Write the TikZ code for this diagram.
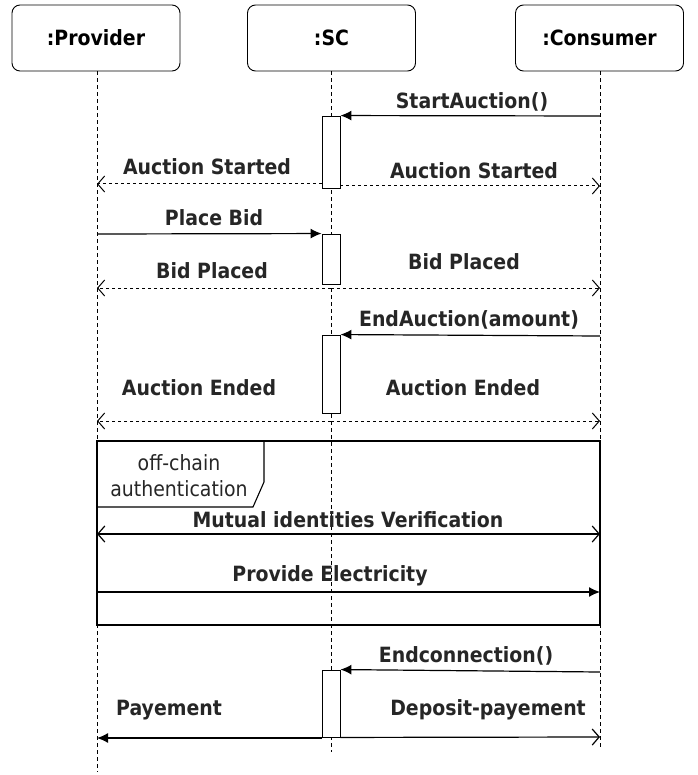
\documentclass[tikz,border=0pt]{standalone}
\usepackage{fontspec}
\setmainfont{DejaVu Sans}[FakeStretch=0.9]
\usetikzlibrary{arrows.meta}
\begin{document}
\begin{tikzpicture}[x=1pt,y=-1pt,
  actor/.style={draw, rounded corners=8pt, minimum width=168pt, minimum height=66pt, font=\fontsize{21}{24}\selectfont\bfseries, line width=0.9pt},
  life/.style={dash pattern=on 4pt off 3pt, line width=0.8pt},
  bar/.style={draw, fill=white, minimum width=18pt, inner sep=0pt, line width=0.9pt},
  lbl/.style={font=\fontsize{21}{24}\selectfont\bfseries, inner sep=0pt, text=black!85},
  msg/.style={line width=1.2pt, -{Latex[length=11pt,width=10pt]}},
  reply/.style={line width=1pt, dash pattern=on 3pt off 3pt, -{Straight Barb[length=7pt,width=16pt]}},
  openmsg/.style={line width=1.2pt, -{Straight Barb[length=7pt,width=16pt]}},
  frame/.style={line width=1.1pt}
]
\useasboundingbox (0,0) rectangle (697,775);
% actors
\node[actor] (prov) at (96,38) {:Provider};
\node[actor] (sc) at (331.5,38) {:SC};
\node[actor] (cons) at (599.5,38) {:Consumer};
% lifeline ends
\coordinate (provEnd) at (97,772);
\coordinate (scEnd) at (331,752);
\coordinate (consEnd) at (600,750);
\draw[life] (prov.south -| provEnd) -- (provEnd);
\draw[life] (sc.south -| scEnd) -- (scEnd);
\draw[life] (cons.south -| consEnd) -- (consEnd);
% frame
\coordinate (fTL) at (97,441);
\coordinate (fBR) at (600,625);
\draw[frame] (fTL) rectangle (fBR);
\draw[frame] (fTL) -- (264,441) -- (264,482) -- (253,507) -- (97,507);
\node[lbl, align=center, font=\fontsize{21}{26}\selectfont, text=black!85] (flabel) at (179,476) {off-chain\\authentication};
% activation bars
\node[bar, minimum height=72pt] (bar1) at (331,152) {};
\node[bar, minimum height=50pt] (bar2) at (331,259) {};
\node[bar, minimum height=78pt] (bar3) at (331,374) {};
\node[bar, minimum height=67pt] (bar4) at (331,703.5) {};
% lifeline coordinates
\coordinate (c1) at (600,116);
\coordinate (p2) at (97,184);
\coordinate (c2) at (600,186);
\coordinate (p3) at (97,234);
\coordinate (s4) at (331,288);
\coordinate (p4) at (97,288);
\coordinate (c4) at (600,288);
\coordinate (c5) at (600,336);
\coordinate (s6) at (331,421);
\coordinate (p6) at (97,421);
\coordinate (c6) at (600,421);
\coordinate (p7) at (97,534);
\coordinate (c7) at (600,534);
\coordinate (p8) at (97,592);
\coordinate (c8) at (600,592);
\coordinate (c9) at (600,672);
\coordinate (p10) at (97,738);
\coordinate (c10) at (600,737);
% messages
\draw[msg] (c1) -- (bar1.north east);
\node[lbl] (t1) at (472,102) {StartAuction()};
\draw[reply] (bar1.west |- p2) -- (p2);
\node[lbl] (t2) at (207,167) {Auction Started};
\draw[reply] (bar1.east |- c2) -- (c2);
\node[lbl] (t3) at (474,171) {Auction Started};
\draw[msg] (p3) -- (bar2.north west);
\node[lbl] (t4) at (214,218) {Place Bid};
\draw[reply] (s4) -- (p4);
\draw[reply] (s4) -- (c4);
\node[lbl] (t5) at (212,271) {Bid Placed};
\node[lbl] (t6) at (464,262) {Bid Placed};
\draw[msg] (c5) -- (bar3.north east);
\node[lbl] (t7) at (469,320) {EndAuction(amount)};
\draw[reply] (s6) -- (p6);
\draw[reply] (s6) -- (c6);
\node[lbl] (t8) at (199,388) {Auction Ended};
\node[lbl] (t9) at (463,388) {Auction Ended};
\draw[openmsg, {Straight Barb[length=7pt,width=16pt]}-{Straight Barb[length=7pt,width=16pt]}] (p7) -- (c7);
\node[lbl] (t10) at (348,520) {Mutual identities Verification};
\draw[msg] (p8) -- (c8);
\node[lbl] (t11) at (330,576) {Provide Electricity};
\draw[msg] (c9) -- (bar4.north east);
\node[lbl] (t12) at (466,656) {Endconnection()};
\draw[msg] (bar4.west |- p10) -- (p10);
\node[lbl] (t13) at (169,710) {Payement};
\draw[openmsg] (bar4.south east) -- (c10);
\node[lbl] (t14) at (488,710) {Deposit-payement};
\end{tikzpicture}
\end{document}
